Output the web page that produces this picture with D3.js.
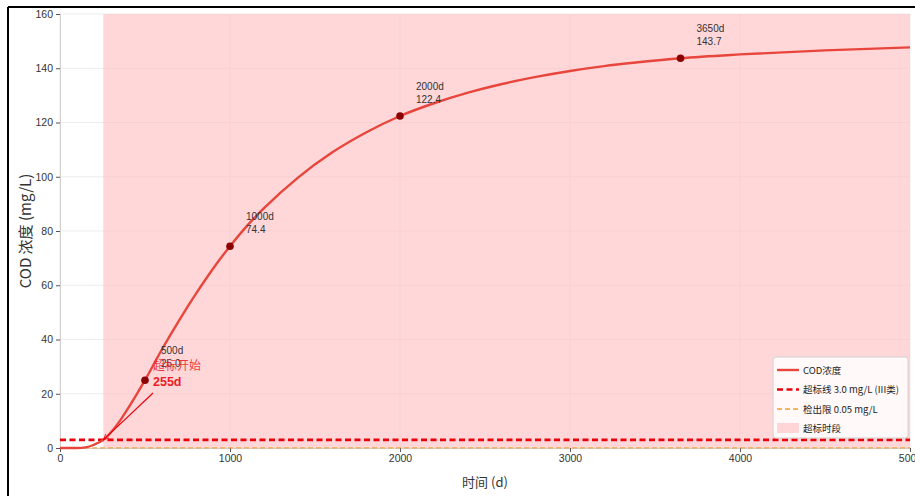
<!DOCTYPE html>
<html><head><meta charset="utf-8">
<script src="https://cdn.jsdelivr.net/npm/d3@7/dist/d3.min.js"></script>
<style>body{margin:0;background:#fff} svg{display:block}</style>
</head><body><svg id="c" width="915" height="496"></svg>
<script>
// ---- data ----
const days = [0, 50, 100, 150, 200, 255, 300, 350, 400, 450, 500, 600, 700, 800, 900, 1000, 1100, 1200, 1400, 1600, 1800, 2000, 2200, 2400, 2600, 2800, 3000, 3200, 3400, 3650, 4000, 4500, 5000];
const cod  = [0, 0, 0.02, 0.25, 1.2, 3.0, 5.8, 9.8, 14.6, 19.7, 25.0, 36.4, 47.0, 56.9, 66.1, 74.4, 81.9, 88.4, 99.7, 108.9, 116.3, 122.4, 127.1, 131.0, 134.2, 136.8, 139.0, 140.8, 142.2, 143.7, 145.1, 146.6, 147.7];
const markDays = [500, 1000, 2000, 3650];
const markVals = [25.0, 74.4, 122.4, 143.7];
const xTicks = [0, 1000, 2000, 3000, 4000, 5000];
const yTicks = [0, 20, 40, 60, 80, 100, 120, 140, 160];
const threshold = 3.0;
const detectLimit = 0.05;
const exceedStart = 255;
const xDomain = [0, 5000];
const yDomain = [0, 160];
const legendLabels = ["COD浓度", "超标线 3.0 mg/L (III类)", "检出限 0.05 mg/L", "超标时段"];

// ---- layout ----
const svg = d3.select("#c");
const L = 60, R = 910, T = 14, B = 448;
const x = d3.scaleLinear().domain(xDomain).range([L, R]);
const y = d3.scaleLinear().domain(yDomain).range([B, T]);
const FONT = "'Liberation Sans','Noto Sans CJK SC',sans-serif";
const CJK = "'Noto Sans CJK SC','Liberation Sans',sans-serif";

// frame lines of the screenshot
svg.append("line").attr("x1", 8).attr("x2", 915).attr("y1", 7).attr("y2", 7).attr("stroke", "#000").attr("stroke-width", 2);
svg.append("line").attr("x1", 8).attr("x2", 8).attr("y1", 7).attr("y2", 496).attr("stroke", "#000").attr("stroke-width", 2);

// grid
const g = svg.append("g");
g.selectAll(".gy").data(yTicks).join("line")
  .attr("x1", L).attr("x2", R).attr("y1", d => y(d)).attr("y2", d => y(d))
  .attr("stroke", "#e8e8e8").attr("stroke-width", 0.8);
g.selectAll(".gx").data(xTicks).join("line")
  .attr("y1", T).attr("y2", B).attr("x1", d => x(d)).attr("x2", d => x(d))
  .attr("stroke", "#e8e8e8").attr("stroke-width", 0.8);

// exceedance span
svg.append("rect").attr("x", x(exceedStart)).attr("y", y(yDomain[1]))
  .attr("width", x(xDomain[1]) - x(exceedStart)).attr("height", y(yDomain[0]) - y(yDomain[1]))
  .attr("fill", "rgb(255,190,194)").attr("fill-opacity", 0.62);

// axes
const xAxis = d3.axisBottom(x).tickValues(xTicks).tickSize(4).tickPadding(3).tickFormat(d3.format("d"));
const yAxis = d3.axisLeft(y).tickValues(yTicks).tickSize(4).tickPadding(3).tickFormat(d3.format("d"));
const gx = svg.append("g").attr("transform", `translate(0,${B})`).call(xAxis);
const gy = svg.append("g").attr("transform", `translate(${L},0)`).call(yAxis);
[gx, gy].forEach(a => {
  a.select(".domain").attr("stroke", "#cfcfcf");
  a.selectAll(".tick line").attr("stroke", "#555");
  a.selectAll(".tick text").attr("fill", "#333").style("font-family", FONT).style("font-size", "10.5px");
});

// reference lines
svg.append("line").attr("x1", L).attr("x2", R).attr("y1", y(detectLimit)).attr("y2", y(detectLimit))
  .attr("stroke", "#f0a030").attr("stroke-width", 1.4).attr("stroke-dasharray", "5,3").attr("opacity", 0.8);
svg.append("line").attr("x1", L).attr("x2", R).attr("y1", y(threshold)).attr("y2", y(threshold))
  .attr("stroke", "#e8000b").attr("stroke-width", 2.6).attr("stroke-dasharray", "6,3.5");

// curve
const line = d3.line().x((d, i) => x(days[i])).y(d => y(d)).curve(d3.curveMonotoneX);
svg.append("path").datum(cod).attr("d", line).attr("fill", "none")
  .attr("stroke", "#e8453c").attr("stroke-width", 2.4);

// marker dots + labels
markDays.forEach((d, i) => {
  svg.append("circle").attr("cx", x(d)).attr("cy", y(markVals[i])).attr("r", 3.8).attr("fill", "#8b0000");
  const t = svg.append("text").attr("x", x(d) + 16).attr("y", y(markVals[i]) - 26)
    .attr("fill", "#333").style("font-family", FONT).style("font-size", "10px");
  t.append("tspan").attr("x", x(d) + 16).text(d + "d");
  t.append("tspan").attr("x", x(d) + 16).attr("dy", 13).text(markVals[i].toFixed(1));
});

// exceedance annotation
const ax = 153, ay = 393;
svg.append("defs").append("marker").attr("id", "ah").attr("viewBox", "0 0 10 10").attr("refX", 9).attr("refY", 5)
  .attr("markerWidth", 6).attr("markerHeight", 6).attr("orient", "auto")
  .append("path").attr("d", "M0,1 L9,5 L0,9").attr("fill", "none").attr("stroke", "#e8000b").attr("stroke-width", 1.2);
svg.append("line").attr("x1", ax).attr("y1", ay).attr("x2", x(exceedStart)).attr("y2", y(threshold))
  .attr("stroke", "#e8000b").attr("stroke-width", 1.1).attr("marker-end", "url(#ah)");
svg.append("text").attr("x", 153).attr("y", 370).attr("fill", "#ee1c25").attr("opacity", 0.85)
  .style("font-family", CJK).style("font-size", "12px").text("超标开始");
svg.append("text").attr("x", 153).attr("y", 386).attr("fill", "#ee1c25")
  .style("font-family", FONT).style("font-size", "12.5px").style("font-weight", "bold").text(exceedStart + "d");

// axis titles
svg.append("text").attr("x", (L + R) / 2).attr("y", 487).attr("text-anchor", "middle").attr("fill", "#333")
  .style("font-family", CJK).style("font-size", "13px").text("时间 (d)");
svg.append("text").attr("transform", `translate(31,${(T + B) / 2}) rotate(-90)`).attr("text-anchor", "middle").attr("fill", "#333")
  .style("font-family", CJK).style("font-size", "15px").text("COD 浓度 (mg/L)");

// legend
const lg = svg.append("g");
lg.append("rect").attr("x", 773).attr("y", 357).attr("width", 135).attr("height", 81).attr("rx", 3)
  .attr("fill", "#fff").attr("fill-opacity", 0.85).attr("stroke", "#d0d0d0");
const rows = [370, 389.5, 409, 428];
lg.append("line").attr("x1", 777).attr("x2", 799).attr("y1", rows[0]).attr("y2", rows[0]).attr("stroke", "#e8453c").attr("stroke-width", 2.4);
lg.append("line").attr("x1", 777).attr("x2", 799).attr("y1", rows[1]).attr("y2", rows[1]).attr("stroke", "#e8000b").attr("stroke-width", 2.4).attr("stroke-dasharray", "6,3.5");
lg.append("line").attr("x1", 777).attr("x2", 799).attr("y1", rows[2]).attr("y2", rows[2]).attr("stroke", "#f0a030").attr("stroke-width", 1.4).attr("stroke-dasharray", "5,3");
lg.append("rect").attr("x", 777).attr("y", rows[3] - 5).attr("width", 22).attr("height", 10).attr("fill", "rgb(255,190,194)").attr("fill-opacity", 0.62);
legendLabels.forEach((s, i) => {
  lg.append("text").attr("x", 803).attr("y", rows[i] + 3.5).attr("fill", "#222")
    .style("font-family", CJK).style("font-size", "9.5px").text(s);
});
</script>
</body></html>
